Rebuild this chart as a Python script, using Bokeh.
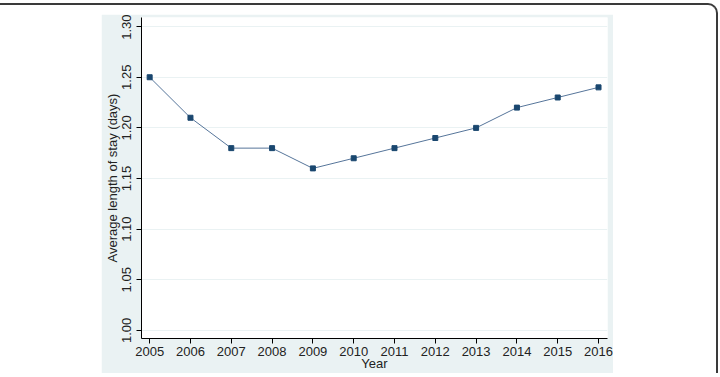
from bokeh.plotting import figure
from bokeh.models import FixedTicker, Range1d
from bokeh.layouts import column
from bokeh.embed import file_html
from bokeh.resources import INLINE

years = [2005, 2006, 2007, 2008, 2009, 2010, 2011, 2012, 2013, 2014, 2015, 2016]
stay = [1.25, 1.21, 1.18, 1.18, 1.16, 1.17, 1.18, 1.19, 1.20, 1.22, 1.23, 1.24]
y_ticks = [1.00, 1.05, 1.10, 1.15, 1.20, 1.25, 1.30]
y_labels = ["1.00", "1.05", "1.10", "1.15", "1.20", "1.25", "1.30"]

FONT = "Liberation Sans"
PANEL = "#eaf2f3"

p = figure(frame_width=466, frame_height=321, output_backend="svg", toolbar_location=None,
           x_range=Range1d(2004.8, 2016.22), y_range=Range1d(0.992, 1.309),
           min_border_left=37, min_border_right=6, min_border_top=3, min_border_bottom=34)
p.border_fill_color = PANEL
p.background_fill_color = "white"
p.outline_line_color = None
p.margin = (9, 103, 0, 101)

p.line(years, stay, line_color="#56759a", line_width=1)
p.scatter(years, stay, marker="square", size=5, fill_color="#1a476f", line_color="#1a476f")

p.xaxis.ticker = FixedTicker(ticks=years)
p.yaxis.ticker = FixedTicker(ticks=y_ticks)
p.yaxis.major_label_overrides = {t: l for t, l in zip(y_ticks, y_labels)}
p.yaxis.major_label_orientation = "vertical"
p.xaxis.axis_label = "Year"
p.yaxis.axis_label = "Average length of stay (days)"
for ax in (p.xaxis, p.yaxis):
    ax.axis_line_color = "black"
    ax.major_tick_line_color = "black"
    ax.major_tick_out = 5
    ax.major_tick_in = 0
    ax.minor_tick_line_color = None
    ax.major_label_text_font = FONT
    ax.major_label_text_font_size = "13px"
    ax.major_label_text_color = "#222222"
    ax.axis_label_text_font = FONT
    ax.axis_label_text_font_size = "13px"
    ax.axis_label_text_font_style = "normal"
    ax.axis_label_text_color = "#222222"
p.xaxis.major_label_standoff = 3
p.xaxis.axis_label_standoff = -3
p.yaxis.major_label_standoff = 5
p.yaxis.axis_label_standoff = 0
p.xgrid.grid_line_color = None
p.ygrid.ticker = FixedTicker(ticks=y_ticks)
p.ygrid.grid_line_color = PANEL
p.ygrid.grid_line_width = 1

root = column(p, styles={
    "border-top": "2px solid #3a3a3a",
    "border-right": "2px solid #3a3a3a",
    "border-top-right-radius": "10px",
})
root.margin = (3, 0, 0, 0)

open("out.html", "w").write(file_html(root, INLINE))
